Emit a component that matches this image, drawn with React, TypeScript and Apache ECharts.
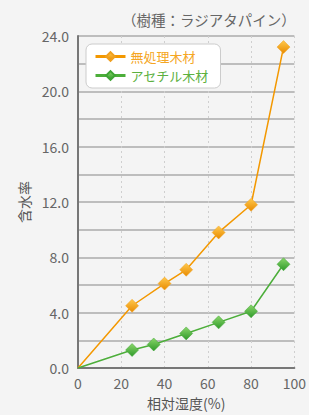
import React, { useEffect, useRef } from "react";
import * as echarts from "echarts";

const seriesNames = ["無処理木材", "アセチル木材"];
const humidity1 = [0, 25, 40, 50, 65, 80, 95];
const moisture1 = [0, 4.5, 6.1, 7.1, 9.8, 11.8, 23.2];
const humidity2 = [0, 25, 35, 50, 65, 80, 95];
const moisture2 = [0, 1.3, 1.7, 2.5, 3.3, 4.1, 7.5];
const titleText = "（樹種：ラジアタパイン）";
const xName = "相対湿度(%)";
const yName = "含水率";

const FONT = "'Noto Sans CJK JP', 'Noto Sans', sans-serif";

function grad(light: string, dark: string) {
  return new echarts.graphic.LinearGradient(0, 0, 0, 1, [
    { offset: 0, color: light },
    { offset: 1, color: dark },
  ]);
}

export default function App() {
  const ref = useRef<HTMLDivElement>(null);
  useEffect(() => {
    if (!ref.current) return;
    const chart = echarts.init(ref.current, null, { renderer: "svg" });
    const pts = (xs: number[], ys: number[]) =>
      xs.map((x, i) => (i === 0 ? { value: [x, ys[i]], symbol: "none" } : { value: [x, ys[i]] }));
    chart.setOption({
      animation: false,
      backgroundColor: "#f4f4f4",
      textStyle: { fontFamily: FONT },
      title: {
        text: titleText,
        right: 8,
        top: 7,
        textStyle: { fontSize: 14.5, fontWeight: "normal", color: "#666", fontFamily: FONT },
      },
      legend: {
        left: 86,
        top: 44,
        orient: "vertical",
        backgroundColor: "#ffffff",
        borderColor: "#cccccc",
        borderWidth: 1,
        borderRadius: 6,
        padding: [6, 12, 6, 8],
        itemGap: 6,
        itemWidth: 30,
        itemHeight: 11,
        lineStyle: { width: 3 },
        textStyle: { fontSize: 13, fontFamily: FONT },
        data: [
          { name: seriesNames[0], textStyle: { color: "#f5a623" } },
          { name: seriesNames[1], textStyle: { color: "#5cb040" } },
        ],
      },
      grid: { left: 78, right: 13, top: 36, bottom: 43 },
      xAxis: {
        type: "value",
        min: 0,
        max: 100,
        interval: 20,
        name: xName,
        nameLocation: "middle",
        nameGap: 28,
        nameTextStyle: { fontSize: 14, color: "#555", fontFamily: FONT },
        axisLine: { show: true, onZero: false, lineStyle: { color: "#777", width: 2 } },
        axisTick: { show: false },
        axisLabel: { fontSize: 14, color: "#666", margin: 8, fontFamily: FONT },
        splitLine: { show: true, lineStyle: { color: "#cfcfcf", type: [2, 3], width: 1 } },
      },
      yAxis: {
        type: "value",
        min: 0,
        max: 24,
        interval: 2,
        name: yName,
        nameLocation: "middle",
        nameRotate: 90,
        nameGap: 40,
        nameTextStyle: { fontSize: 14, color: "#555", fontFamily: FONT },
        axisLine: { show: true, lineStyle: { color: "#777", width: 2 } },
        axisTick: { show: false },
        axisLabel: {
          fontSize: 14,
          color: "#666",
          margin: 9,
          fontFamily: FONT,
          formatter: (v: number) => (v % 4 === 0 ? v.toFixed(1) : ""),
        },
        splitLine: { show: true, lineStyle: { color: "#bdbdbd", width: 2 } },
      },
      series: [
        {
          name: seriesNames[0],
          type: "line",
          data: pts(humidity1, moisture1),
          symbol: "diamond",
          symbolSize: 13,
          showAllSymbol: true,
          lineStyle: { color: "#f39800", width: 1.5 },
          itemStyle: { color: grad("#ffc94d", "#e88a00"), borderColor: "#f0a020", borderWidth: 0.5 },
          z: 3,
        },
        {
          name: seriesNames[1],
          type: "line",
          data: pts(humidity2, moisture2),
          symbol: "diamond",
          symbolSize: 13,
          showAllSymbol: true,
          lineStyle: { color: "#4cae3a", width: 1.5 },
          itemStyle: { color: grad("#8ad66a", "#2f9a2a"), borderColor: "#3fa535", borderWidth: 0.5 },
          z: 3,
        },
      ],
    });
    return () => chart.dispose();
  }, []);
  return (
    <div
      ref={ref}
      style={{ position: "fixed", left: 0, top: 0, width: 309, height: 415 }}
    />
  );
}
